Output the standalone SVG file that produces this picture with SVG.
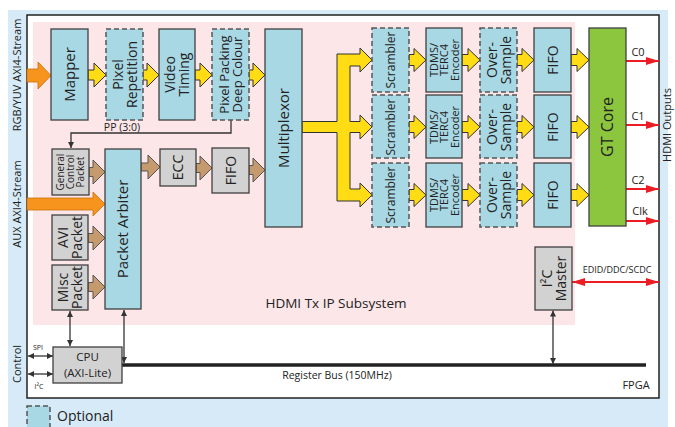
<svg xmlns="http://www.w3.org/2000/svg" width="675" height="427" viewBox="0 0 675 427">
<defs>
<style>
text{font-family:"Open Sans","Noto Sans",sans-serif;fill:#222;}
.c{text-anchor:middle;}
.bl{fill:#a9d8e5;stroke:#404040;stroke-width:1.3;}
.opt{fill:#a9d8e5;stroke:#555;stroke-width:1.5;stroke-dasharray:5,3;}
.gr{fill:#d2d2d2;stroke:#404040;stroke-width:1.3;}
.gt{fill:#8cc63f;stroke:#404040;stroke-width:1.3;}
.ya{fill:#ffdc14;stroke:#333;stroke-width:1;}
.ba{fill:#c59a6d;stroke:#555;stroke-width:1;}
.oa{fill:#f7941d;stroke:#c8700e;stroke-width:0.8;}
.ln{fill:none;stroke:#333;stroke-width:1.3;}
.red{fill:none;stroke:#ed1c24;stroke-width:2;}
</style>
<marker id="ah" viewBox="0 0 8 8" refX="8" refY="4" markerWidth="6" markerHeight="6" markerUnits="userSpaceOnUse" orient="auto-start-reverse"><path d="M0,0 L8,4 L0,8 z" fill="#333"/></marker>
<marker id="rh" viewBox="0 0 13 8" refX="13" refY="4" markerWidth="13" markerHeight="8" markerUnits="userSpaceOnUse" orient="auto-start-reverse"><path d="M0,0 L13,4 L0,8 z" fill="#ed1c24"/></marker>
</defs>
<rect x="0" y="0" width="675" height="427" fill="#fff"/>
<rect x="8" y="10" width="660" height="417" fill="#d6ebf7"/>
<rect id="fpga" x="27" y="15" width="632" height="383" fill="#fff" stroke="#222" stroke-width="1.5"/>
<rect id="subsystem" x="33" y="22" width="542" height="303" fill="#fce6e8"/>
<text x="336" y="308" class="c" font-size="13.5">HDMI Tx IP Subsystem</text>
<text x="636" y="389" class="c" font-size="11">FPGA</text>
<text class="c" font-size="11" transform="translate(21,75) rotate(-90)">RGB/YUV AXI4-Stream</text>
<text class="c" font-size="11" transform="translate(21,204) rotate(-90)">AUX AXI4-Stream</text>
<text class="c" font-size="11" transform="translate(21,364) rotate(-90)">Control</text>
<text class="c" font-size="11" transform="translate(671,125) rotate(-90)">HDMI Outputs</text>

<g id="connectors">
<polygon class="oa" points="27,69 38,69 38,62 51,75.5 38,89 38,82 27,82"/>
<polygon class="oa" points="27,198 93,198 93,192 105,204 93,216 93,210 27,210"/>
<polygon class="ya" points="88,70 94,70 94,63 106,75 94,87 94,80 88,80"/>
<polygon class="ya" points="143,70 147,70 147,63 159,75 147,87 147,80 143,80"/>
<polygon class="ya" points="195,70 200,70 200,63 212,75 200,87 200,80 195,80"/>
<polygon class="ya" points="249,70 253,70 253,63 265,75 253,87 253,80 249,80"/>
<polygon class="ba" points="89,167.5 93,167.5 93,160 105,172 93,184 93,176.5 89,176.5"/>
<polygon class="ba" points="141,163 148,163 148,155 160,167 148,179 148,171 141,171"/>
<polygon class="ba" points="196,163.5 200,163.5 200,156 212,168 200,180 200,172.5 196,172.5"/>
<polygon class="ba" points="249,165.5 253,165.5 253,158 265,170 253,182 253,174.5 249,174.5"/>
<polygon class="ba" points="88,233.5 93,233.5 93,226 105,238 93,250 93,242.5 88,242.5"/>
<polygon class="ba" points="88,282.5 93,282.5 93,275 105,287 93,299 93,291.5 88,291.5"/>
<polygon class="ya" points="302,121.5 337,121.5 337,54 360,54 360,48 372,60 360,72 360,66 350,66 350,121.5 360,121.5 360,115 372,127 360,139 360,132.5 350,132.5 350,189 360,189 360,183 372,195 360,207 360,201 337,201 337,132.5 302,132.5"/>
<polygon class="ya" points="409,54.5 414,54.5 414,48.5 426,60 414,71.5 414,65.5 409,65.5"/>
<polygon class="ya" points="462,54.5 468,54.5 468,48.5 480,60 468,71.5 468,65.5 462,65.5"/>
<polygon class="ya" points="517,54.5 522,54.5 522,48.5 534,60 522,71.5 522,65.5 517,65.5"/>
<polygon class="ya" points="571,54.5 577,54.5 577,48.5 589,60 577,71.5 577,65.5 571,65.5"/>
<polygon class="ya" points="409,121.5 414,121.5 414,115.5 426,127 414,138.5 414,132.5 409,132.5"/>
<polygon class="ya" points="462,121.5 468,121.5 468,115.5 480,127 468,138.5 468,132.5 462,132.5"/>
<polygon class="ya" points="517,121.5 522,121.5 522,115.5 534,127 522,138.5 522,132.5 517,132.5"/>
<polygon class="ya" points="571,121.5 577,121.5 577,115.5 589,127 577,138.5 577,132.5 571,132.5"/>
<polygon class="ya" points="409,189.5 414,189.5 414,183.5 426,195 414,206.5 414,200.5 409,200.5"/>
<polygon class="ya" points="462,189.5 468,189.5 468,183.5 480,195 468,206.5 468,200.5 462,200.5"/>
<polygon class="ya" points="517,189.5 522,189.5 522,183.5 534,195 522,206.5 522,200.5 517,200.5"/>
<polygon class="ya" points="571,189.5 577,189.5 577,183.5 589,195 577,206.5 577,200.5 571,200.5"/>
<path class="ln" d="M231,120 V133 H71 V148" marker-end="url(#ah)"/>
<text x="122" y="131" class="c" font-size="10.5">PP (3:0)</text>
<path class="red" d="M626,61 H659" marker-end="url(#rh)"/>
<path class="red" d="M626,125 H659" marker-end="url(#rh)"/>
<path class="red" d="M626,189 H659" marker-end="url(#rh)"/>
<path class="red" d="M626,221 H659" marker-end="url(#rh)"/>
<path class="red" d="M572,282 H659" marker-start="url(#rh)" marker-end="url(#rh)"/>
<text x="638" y="56" class="c" font-size="11">C0</text>
<text x="638" y="120" class="c" font-size="11">C1</text>
<text x="638" y="184" class="c" font-size="11">C2</text>
<text x="640" y="215" class="c" font-size="11">Clk</text>
<text x="617" y="273" class="c" font-size="9">EDID/DDC/SCDC</text>
<path d="M122,365 H646" stroke="#222" stroke-width="3.5" fill="none"/>
<text x="337" y="379" class="c" font-size="10.5">Register Bus (150MHz)</text>
<path class="ln" d="M553,310.5 V364" marker-start="url(#ah)" marker-end="url(#ah)"/>
<path class="ln" d="M124,310 V363" marker-start="url(#ah)" marker-end="url(#ah)"/>
<path class="ln" d="M70,311 V346" marker-start="url(#ah)" marker-end="url(#ah)"/>
<path class="ln" d="M28,356 H53" marker-start="url(#ah)" marker-end="url(#ah)"/>
<path class="ln" d="M28,374 H53" marker-start="url(#ah)" marker-end="url(#ah)"/>
<text x="38" y="350" class="c" font-size="7">SPI</text>
<text x="39" y="389" class="c" font-size="7">I²C</text>
</g>

<g id="mapper"><rect class="bl" x="51" y="29" width="37" height="91"/><text class="c" font-size="15" transform="translate(69.5,74.5) rotate(-90)" y="5">Mapper</text></g>
<g id="pixel-repetition"><rect class="opt" x="106" y="29" width="37" height="91"/><text class="c" font-size="14" transform="translate(124.5,74.5) rotate(-90)"><tspan x="0" y="-2">Pixel</tspan><tspan x="0" y="12">Repetition</tspan></text></g>
<g id="video-timing"><rect class="bl" x="159" y="29" width="36" height="91"/><text class="c" font-size="14" transform="translate(177,74.5) rotate(-90)"><tspan x="0" y="-2">Video</tspan><tspan x="0" y="12">Timing</tspan></text></g>
<g id="pixel-packing"><rect class="opt" x="212" y="29" width="37" height="91"/><text class="c" font-size="13" transform="translate(230.5,74.5) rotate(-90)"><tspan x="0" y="-2">Pixel Packing</tspan><tspan x="0" y="11">Deep Colour</tspan></text></g>
<g id="multiplexor"><rect class="bl" x="265" y="29" width="37" height="198"/><text class="c" font-size="15" transform="translate(283.5,128) rotate(-90)" y="5">Multiplexor</text></g>

<g id="general-control-packet"><rect class="gr" x="52" y="149" width="37" height="46"/><text class="c" font-size="10" transform="translate(70.5,172) rotate(-90)"><tspan x="0" y="-6.5">General</tspan><tspan x="0" y="3.5">Control</tspan><tspan x="0" y="13.5">Packet</tspan></text></g>
<g id="avi-packet"><rect class="gr" x="52" y="215" width="36" height="45"/><text class="c" font-size="14" transform="translate(70,237.5) rotate(-90)"><tspan x="0" y="-2">AVI</tspan><tspan x="0" y="12">Packet</tspan></text></g>
<g id="misc-packet"><rect class="gr" x="52" y="265" width="36" height="45"/><text class="c" font-size="14" transform="translate(70,287.5) rotate(-90)"><tspan x="0" y="-2">Misc</tspan><tspan x="0" y="12">Packet</tspan></text></g>
<g id="packet-arbiter"><rect class="bl" x="105" y="149" width="36" height="160"/><text class="c" font-size="15" transform="translate(123,229) rotate(-90)" y="5">Packet Arbiter</text></g>
<g id="ecc"><rect class="gr" x="160" y="149" width="36" height="37"/><text class="c" font-size="14" transform="translate(178,167.5) rotate(-90)" y="5">ECC</text></g>
<g id="fifo-aux"><rect class="gr" x="212" y="148" width="37" height="45"/><text class="c" font-size="14" transform="translate(230.5,170.5) rotate(-90)" y="5">FIFO</text></g>

<g id="scrambler-0"><rect class="opt" x="372" y="28" width="37" height="64"/><text class="c" font-size="12" transform="translate(390.5,60) rotate(-90)" y="4">Scrambler</text></g>
<g id="scrambler-1"><rect class="opt" x="372" y="95" width="37" height="63"/><text class="c" font-size="12" transform="translate(390.5,127) rotate(-90)" y="4">Scrambler</text></g>
<g id="scrambler-2"><rect class="opt" x="372" y="163" width="37" height="64"/><text class="c" font-size="12" transform="translate(390.5,195) rotate(-90)" y="4">Scrambler</text></g>

<g id="encoder-0"><rect class="bl" x="426" y="28" width="36" height="64"/><text class="c" font-size="11" transform="translate(444,60) rotate(-90)"><tspan x="0" y="-6.5">TDMS/</tspan><tspan x="0" y="4">TERC4</tspan><tspan x="0" y="14.5">Encoder</tspan></text></g>
<g id="encoder-1"><rect class="bl" x="426" y="95" width="36" height="63"/><text class="c" font-size="11" transform="translate(444,127) rotate(-90)"><tspan x="0" y="-6.5">TDMS/</tspan><tspan x="0" y="4">TERC4</tspan><tspan x="0" y="14.5">Encoder</tspan></text></g>
<g id="encoder-2"><rect class="bl" x="426" y="163" width="36" height="64"/><text class="c" font-size="11" transform="translate(444,195) rotate(-90)"><tspan x="0" y="-6.5">TDMS/</tspan><tspan x="0" y="4">TERC4</tspan><tspan x="0" y="14.5">Encoder</tspan></text></g>

<g id="oversample-0"><rect class="opt" x="480" y="28" width="37" height="64"/><text class="c" font-size="14" transform="translate(498.5,60) rotate(-90)"><tspan x="0" y="-2">Over-</tspan><tspan x="0" y="12">Sample</tspan></text></g>
<g id="oversample-1"><rect class="opt" x="480" y="95" width="37" height="63"/><text class="c" font-size="14" transform="translate(498.5,127) rotate(-90)"><tspan x="0" y="-2">Over-</tspan><tspan x="0" y="12">Sample</tspan></text></g>
<g id="oversample-2"><rect class="opt" x="480" y="163" width="37" height="64"/><text class="c" font-size="14" transform="translate(498.5,195) rotate(-90)"><tspan x="0" y="-2">Over-</tspan><tspan x="0" y="12">Sample</tspan></text></g>

<g id="fifo-0"><rect class="bl" x="534" y="28" width="37" height="64"/><text class="c" font-size="14" transform="translate(552.5,60) rotate(-90)" y="5">FIFO</text></g>
<g id="fifo-1"><rect class="bl" x="534" y="95" width="37" height="63"/><text class="c" font-size="14" transform="translate(552.5,127) rotate(-90)" y="5">FIFO</text></g>
<g id="fifo-2"><rect class="bl" x="534" y="163" width="37" height="64"/><text class="c" font-size="14" transform="translate(552.5,195) rotate(-90)" y="5">FIFO</text></g>

<g id="gt-core"><rect class="gt" x="589" y="28" width="37" height="198"/><text class="c" font-size="16" transform="translate(607.5,127) rotate(-90)" y="5.5">GT Core</text></g>
<g id="i2c-master"><rect class="gr" x="535" y="247" width="37" height="63"/><text class="c" font-size="14" transform="translate(553.5,278.5) rotate(-90)"><tspan x="0" y="-2">I²C</tspan><tspan x="0" y="12">Master</tspan></text></g>
<g id="cpu"><rect class="gr" x="53" y="347" width="69" height="36"/><text class="c" font-size="11.5"><tspan x="87.5" y="361">CPU</tspan><tspan x="87.5" y="377">(AXI-Lite)</tspan></text></g>

<g id="legend"><rect class="opt" x="27" y="406" width="23" height="30"/><text x="57" y="421" font-size="14">Optional</text></g>
</svg>
